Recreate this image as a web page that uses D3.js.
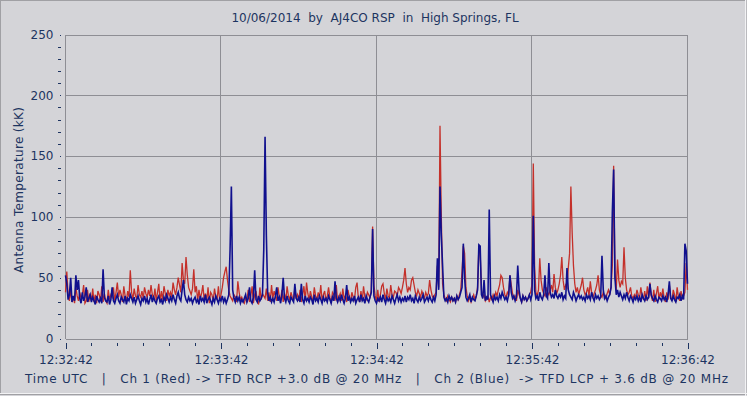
<!DOCTYPE html>
<html><head><meta charset="utf-8">
<script src="https://cdn.jsdelivr.net/npm/d3@7"></script>
<style>
html,body{margin:0;padding:0;background:#d4d4d8;}
svg{display:block;}
text{font-family:"DejaVu Sans",Verdana,sans-serif;fill:#1d3461;}
</style></head><body>
<svg id="c" width="747" height="396"></svg>
<script>
const title = "10/06/2014  by  AJ4CO RSP  in  High Springs, FL";
const yTitle = "Antenna Temperature (kK)";
const footer = "Time UTC   |   Ch 1 (Red) -> TFD RCP +3.0 dB @ 20 MHz   |   Ch 2 (Blue)  -> TFD LCP + 3.6 dB @ 20 MHz";
const sampleStep = 0.5; // seconds between samples
const xTickSeconds = [0, 60, 120, 180, 240];
const xTickLabels = ["12:32:42", "12:33:42", "12:34:42", "12:35:42", "12:36:42"];
const yTicks = [0, 50, 100, 150, 200, 250];

const ch1Red = [
38,55,36,31,40,30,34,29,42,35,31,38,33,36,44,29,31,40,30,37,
31,41,30,36,29,39,36,31,43,30,37,31,29,40,32,36,34,42,31,38,
46,34,40,36,30,43,35,31,39,34,56,38,32,41,35,33,44,36,34,39,
33,42,37,34,40,35,44,36,32,41,31,38,45,30,39,32,43,37,31,40,
35,38,34,46,40,36,42,50,44,38,62,48,45,67,52,42,39,36,41,57,
38,43,31,40,33,37,44,32,37,31,42,29,38,36,31,41,34,32,43,31,
36,42,50,55,59,48,40,35,33,31,36,34,30,47,38,32,34,31,29,33,
31,40,30,35,43,29,36,39,31,28,42,32,37,35,33,41,31,38,30,44,
33,39,35,31,42,34,32,40,30,37,31,43,35,32,38,34,31,41,33,36,
31,40,30,36,43,31,46,37,32,39,34,31,42,35,32,38,33,44,31,36,
39,31,35,42,34,29,38,36,31,44,30,34,37,31,41,33,35,30,40,34,
31,38,34,32,42,46,33,30,39,31,43,34,32,38,36,33,40,92,44,35,
31,40,30,36,43,45,37,32,41,35,33,44,36,34,39,38,35,42,40,37,
42,48,58,45,38,42,40,48,50,44,38,35,40,37,34,39,36,33,38,35,
37,48,40,35,33,36,38,60,42,175,101,45,36,33,31,35,32,30,34,31,
33,30,35,32,36,40,55,76,70,42,35,31,34,30,33,36,32,35,42,75,
70,40,34,36,31,33,35,30,34,32,36,33,38,35,40,44,52,50,42,36,
34,38,36,52,44,37,33,35,31,40,36,33,30,35,32,34,31,33,36,38,
45,144,60,38,35,40,66,48,40,37,35,42,38,36,40,44,38,53,42,37,
40,45,52,67,48,40,44,42,58,70,125,87,60,45,38,42,36,40,44,50,
40,36,38,42,35,47,38,34,37,40,44,52,40,36,34,38,35,33,37,40,
36,42,60,142,55,40,65,48,42,47,45,75,50,40,36,38,42,35,33,36,
34,40,36,33,42,35,32,39,31,43,33,46,35,31,40,30,37,43,32,38,
34,41,33,30,38,32,44,34,31,40,36,30,42,34,31,39,33,35,38,62,
40];

const ch2Blue = [
52,45,32,36,50,30,35,31,52,40,48,33,29,38,31,34,42,30,33,36,
30,34,31,28,35,32,30,33,29,57,34,31,30,35,28,32,42,31,29,33,
36,31,29,34,32,30,35,28,33,31,36,33,30,34,29,32,35,31,28,33,
31,35,30,33,28,32,36,30,34,31,29,33,35,30,32,28,34,31,36,33,
30,34,31,36,32,29,35,38,33,31,40,48,36,32,30,34,31,33,29,32,
34,30,32,28,35,31,33,30,36,29,32,34,31,28,33,30,35,32,29,33,
31,35,30,33,29,32,36,73,125,40,33,30,35,31,34,29,32,30,33,36,
30,33,42,31,29,34,56,32,30,35,31,33,36,73,166,85,38,31,34,30,
33,30,35,42,31,34,29,36,50,33,30,35,31,29,34,32,30,45,33,31,
34,30,45,32,29,35,31,33,30,34,32,28,36,31,33,30,35,32,29,34,
31,33,30,35,32,29,34,31,47,33,30,34,31,36,32,29,33,44,31,34,
30,33,31,35,29,32,34,30,36,31,33,29,35,32,30,34,38,90,35,31,
29,33,31,34,30,36,32,29,34,31,33,30,35,32,29,33,36,31,34,30,
33,31,35,30,34,32,36,31,33,29,35,32,30,34,31,33,36,30,32,34,
31,35,32,30,34,31,36,66,40,125,85,60,34,31,33,30,35,32,34,31,
33,30,35,32,34,38,42,78,50,34,31,33,36,30,34,32,31,35,40,77,
76,36,33,48,31,34,32,106,36,33,30,35,32,34,31,36,33,38,35,32,
34,31,36,52,38,33,35,31,34,60,40,33,30,35,32,34,31,33,36,32,
36,101,40,33,35,31,38,34,32,36,52,35,33,62,38,34,36,33,40,35,
33,36,34,38,32,35,33,58,40,36,34,32,38,35,31,34,36,33,35,32,
34,31,36,33,35,32,38,34,31,36,33,35,32,34,68,40,33,35,31,34,
36,42,104,139,50,36,40,34,38,35,32,36,33,38,34,31,35,33,30,34,
32,35,31,34,30,36,33,31,35,32,34,45,36,33,31,35,32,30,34,33,
31,35,32,34,30,36,47,33,31,35,32,30,34,33,36,31,35,32,78,72,
45];

const W = 747, H = 396;
const plot = {l: 65.5, r: 687.5, t: 34.5, b: 338.5};
const svg = d3.select("#c");
const gridColor = "#8e8e94";

// outer frame
svg.append("rect").attr("x",0.5).attr("y",0.5).attr("width",W-1.5).attr("height",H-2)
  .attr("fill","#d4d4d8").attr("stroke","#a0a0a4");
svg.append("line").attr("x1",0).attr("x2",W).attr("y1",H-2.5).attr("y2",H-2.5).attr("stroke","#f2f2f4");
svg.append("line").attr("x1",W-1.5).attr("x2",W-1.5).attr("y1",0).attr("y2",H).attr("stroke","#f2f2f4");

const x = d3.scaleLinear().domain([0,240]).range([plot.l, plot.r]);
const y = d3.scaleLinear().domain([0,250]).range([plot.b, plot.t]);

// grid
const g = svg.append("g").attr("shape-rendering","crispEdges");
g.selectAll(".hg").data(yTicks).join("line")
  .attr("x1",plot.l).attr("x2",plot.r).attr("y1",d=>Math.round(y(d))+0.5).attr("y2",d=>Math.round(y(d))+0.5)
  .attr("stroke",gridColor);
g.selectAll(".vg").data(xTickSeconds).join("line")
  .attr("y1",plot.t).attr("y2",plot.b).attr("x1",d=>Math.round(x(d))-0.5).attr("x2",d=>Math.round(x(d))-0.5)
  .attr("stroke",gridColor);

// y axis
const yMinor = d3.range(0,251,10);
const yAxis = svg.append("g").attr("transform",`translate(${plot.l-5},0)`)
  .call(d3.axisLeft(y).tickValues(yMinor).tickSize(3).tickFormat(""));
yAxis.select(".domain").remove();
yAxis.selectAll(".tick line").attr("stroke","#1d3461").attr("shape-rendering","crispEdges")
  .attr("x2", d => yTicks.includes(d) ? -1 : -3).attr("x1", 0);
const yLab = svg.append("g").attr("transform",`translate(${plot.l-5},0)`)
  .call(d3.axisLeft(y).tickValues(yTicks).tickSize(0).tickPadding(7));
yLab.select(".domain").remove();
yLab.selectAll("text").attr("font-size","12px").attr("fill","#1d3461").attr("font-family","DejaVu Sans");

// x axis
const xMinor = d3.range(0,241,10);
const xAxis = svg.append("g").attr("transform",`translate(0,${plot.b+4})`)
  .call(d3.axisBottom(x).tickValues(xMinor).tickSize(3).tickFormat(""));
xAxis.select(".domain").remove();
xAxis.selectAll(".tick line").attr("stroke","#1d3461").attr("shape-rendering","crispEdges")
  .attr("y2", d => xTickSeconds.includes(d) ? 6 : 3);
const xLab = svg.append("g").attr("transform",`translate(0,${plot.b+4})`)
  .call(d3.axisBottom(x).tickValues(xTickSeconds).tickSize(0).tickPadding(13)
    .tickFormat((d,i) => xTickLabels[i]));
xLab.select(".domain").remove();
xLab.selectAll("text").attr("font-size","12px").attr("fill","#1d3461").attr("font-family","DejaVu Sans");

// series
const line = d3.line().x((d,i)=>x(i*sampleStep)).y(d=>y(d));
svg.append("path").datum(ch1Red).attr("d",line).attr("fill","none")
  .attr("stroke","#c4302a").attr("stroke-width",1.3);
svg.append("path").datum(ch2Blue).attr("d",line).attr("fill","none")
  .attr("stroke","#10108e").attr("stroke-width",1.6);

// texts
svg.append("text").attr("x",375).attr("y",22).attr("text-anchor","middle")
  .attr("font-size","12px").style("white-space","pre").text(title);
svg.append("text").attr("transform","translate(23,190) rotate(-90)").attr("text-anchor","middle")
  .attr("font-size","12px").attr("textLength",166).attr("lengthAdjust","spacing").text(yTitle);
svg.append("text").attr("x",376.5).attr("y",383).attr("text-anchor","middle")
  .attr("font-size","12px").style("white-space","pre")
  .attr("textLength",703).attr("lengthAdjust","spacing").text(footer);
</script>
</body></html>
